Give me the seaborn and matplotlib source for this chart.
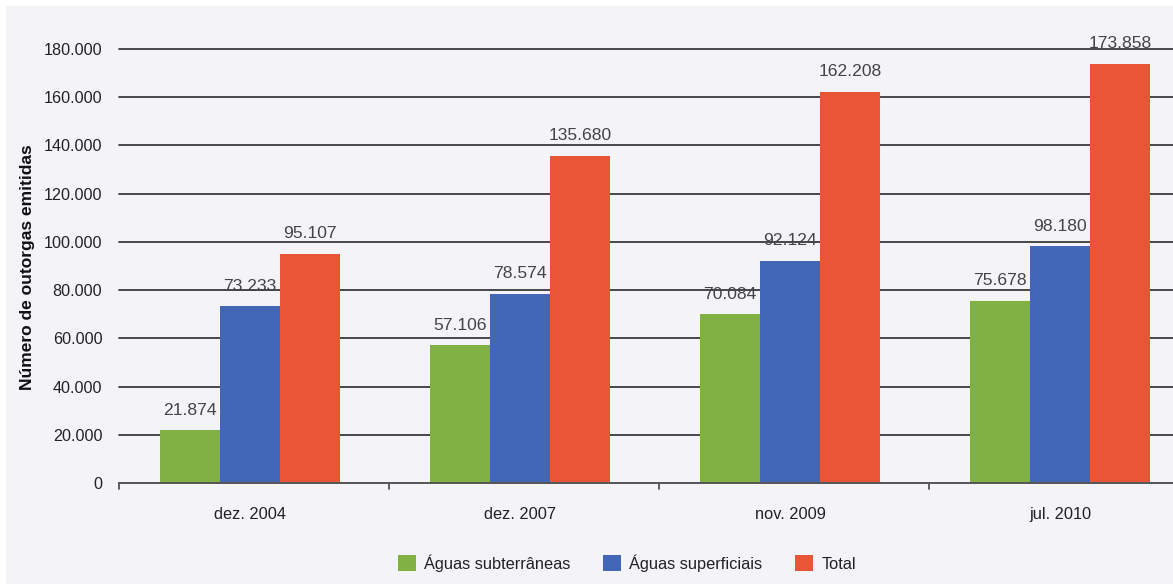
import matplotlib
matplotlib.use("Agg")
import matplotlib.pyplot as plt
import matplotlib.patches as mpatches
import seaborn as sns
import pandas as pd

periodos = ["dez. 2004", "dez. 2007", "nov. 2009", "jul. 2010"]
series = ["Águas subterrâneas", "Águas superficiais", "Total"]
subterraneas = [21874, 57106, 70084, 75678]
superficiais = [73233, 78574, 92124, 98180]
total = [95107, 135680, 162208, 173858]
cores = ["#80B142", "#4367B7", "#E85637"]
yticks = list(range(0, 180001, 20000))

def fmt_br(v):
    return f"{int(v):,}".replace(",", ".")

df = pd.DataFrame({
    "periodo": periodos * 3,
    "serie": [s for s in series for _ in periodos],
    "valor": subterraneas + superficiais + total,
})

sns.set_theme(style="white")
plt.rcParams["font.family"] = ["Liberation Sans", "DejaVu Sans"]

bg = "#F3F3F8"
fig = plt.figure(figsize=(11.73, 5.84), dpi=100, facecolor="white")
fig.patches.append(mpatches.Rectangle((6 / 1173, 0), 1, 1 - 6 / 584,
                                      transform=fig.transFigure,
                                      facecolor=bg, edgecolor="none", zorder=-10))

left = 119 / 1173
width = 1080 / 1173
bottom = 1 - 483 / 584
height = (483 - 49) / 584
ax = fig.add_axes([left, bottom, width, height])
ax.set_facecolor("none")

sns.barplot(data=df, x="periodo", y="valor", hue="serie", order=periodos,
            hue_order=series, palette=cores, width=0.667, saturation=1,
            edgecolor="none", linewidth=0, ax=ax, legend=False, zorder=3)

# category boundaries sit a little left of the midpoint between groups
off = 0.485
ax.set_xlim(-off, 4 - off)
ax.set_ylim(0, 180000)
ax.set_yticks(yticks)
ax.set_yticklabels([fmt_br(v) for v in yticks], fontsize=11.6, color="#222222")
ax.tick_params(axis="y", length=0, pad=12)

for y in yticks[1:]:
    ax.axhline(y, color="#2A2A2A", linewidth=1.2, zorder=1, clip_on=False)

ax.set_xticks([0, 1, 2, 3])
ax.set_xticklabels(periodos, fontsize=11.8, color="#222222")
ax.tick_params(axis="x", length=0, pad=17)
for k in range(4):
    b = k - off
    ax.plot([b, b], [0, -6 / 434], transform=ax.get_xaxis_transform(),
            color="#444444", linewidth=1.2, clip_on=False, zorder=4)

for s in ["top", "right", "left"]:
    ax.spines[s].set_visible(False)
ax.spines["bottom"].set_color("#555555")
ax.spines["bottom"].set_linewidth(1.4)
ax.spines["bottom"].set_zorder(4)

for cont in ax.containers:
    for bar in cont:
        h = bar.get_height()
        ax.annotate(fmt_br(h), (bar.get_x() + bar.get_width() / 2, h),
                    xytext=(0, 9), textcoords="offset points",
                    ha="center", va="bottom", fontsize=12.6, color="#444444",
                    clip_on=False, zorder=5)

ax.set_xlabel("")
ax.set_ylabel("")
fig.text(28 / 1173, 1 - 267 / 584, "Número de outorgas emitidas", rotation=90,
         ha="center", va="center", fontsize=12.5, fontweight="bold", color="#111111")

handles = [mpatches.Patch(facecolor=c, edgecolor="none", label=s)
           for c, s in zip(cores, series)]
fig.legend(handles=handles, loc="center", bbox_to_anchor=(627 / 1173, 1 - 563 / 584),
           ncol=3, frameon=False, fontsize=11.8, handlelength=1.1, handleheight=1.1,
           handletextpad=0.5, columnspacing=2.0, labelcolor="#222222")

fig.savefig("out.png", dpi=100, facecolor=fig.get_facecolor())
